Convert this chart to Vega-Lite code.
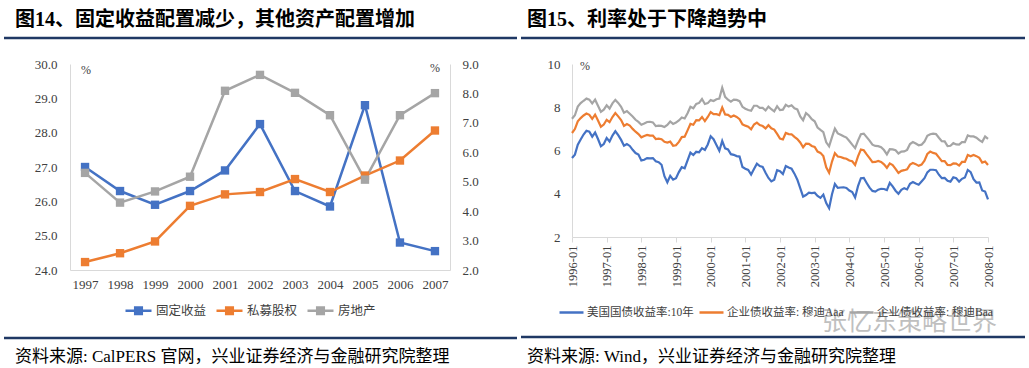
{
  "$schema": "https://vega.github.io/schema/vega-lite/v6.json",
  "padding": 0,
  "background": "white",
  "bounds": "flush",
  "spacing": 122,
  "resolve": {"scale": {"color": "independent"}, "legend": {"color": "independent"}},
  "config": {
    "view": {"stroke": null},
    "axis": {"labelFont": "Liberation Serif", "labelFontSize": 13, "labelColor": "#404040", "domainColor": "#D9D9D9", "domainWidth": 1, "ticks": false, "grid": false, "title": null}
  },
  "datasets": {
    "alloc": [
      {"year": "1997", "series": "固定收益", "value": 27.0},
      {"year": "1998", "series": "固定收益", "value": 26.3},
      {"year": "1999", "series": "固定收益", "value": 25.9},
      {"year": "2000", "series": "固定收益", "value": 26.3},
      {"year": "2001", "series": "固定收益", "value": 26.9},
      {"year": "2002", "series": "固定收益", "value": 28.25},
      {"year": "2003", "series": "固定收益", "value": 26.3},
      {"year": "2004", "series": "固定收益", "value": 25.85},
      {"year": "2005", "series": "固定收益", "value": 28.8},
      {"year": "2006", "series": "固定收益", "value": 24.8},
      {"year": "2007", "series": "固定收益", "value": 24.55},
      {"year": "1997", "series": "私募股权", "value": 2.27},
      {"year": "1998", "series": "私募股权", "value": 2.57},
      {"year": "1999", "series": "私募股权", "value": 2.97},
      {"year": "2000", "series": "私募股权", "value": 4.18},
      {"year": "2001", "series": "私募股权", "value": 4.57},
      {"year": "2002", "series": "私募股权", "value": 4.65},
      {"year": "2003", "series": "私募股权", "value": 5.09},
      {"year": "2004", "series": "私募股权", "value": 4.65},
      {"year": "2005", "series": "私募股权", "value": 5.21},
      {"year": "2006", "series": "私募股权", "value": 5.72},
      {"year": "2007", "series": "私募股权", "value": 6.74},
      {"year": "1997", "series": "房地产", "value": 5.30},
      {"year": "1998", "series": "房地产", "value": 4.29},
      {"year": "1999", "series": "房地产", "value": 4.67},
      {"year": "2000", "series": "房地产", "value": 5.17},
      {"year": "2001", "series": "房地产", "value": 8.09},
      {"year": "2002", "series": "房地产", "value": 8.63},
      {"year": "2003", "series": "房地产", "value": 8.02},
      {"year": "2004", "series": "房地产", "value": 7.26},
      {"year": "2005", "series": "房地产", "value": 5.07},
      {"year": "2006", "series": "房地产", "value": 7.26},
      {"year": "2007", "series": "房地产", "value": 8.01}
    ],
    "rates": [
      {"m": "1996-01", "t10": 5.65, "aaa": 6.81, "baa": 7.47},
      {"m": "1996-02", "t10": 5.81, "aaa": 6.99, "baa": 7.63},
      {"m": "1996-03", "t10": 6.27, "aaa": 7.35, "baa": 8.03},
      {"m": "1996-04", "t10": 6.51, "aaa": 7.50, "baa": 8.19},
      {"m": "1996-05", "t10": 6.74, "aaa": 7.62, "baa": 8.30},
      {"m": "1996-06", "t10": 6.91, "aaa": 7.71, "baa": 8.40},
      {"m": "1996-07", "t10": 6.87, "aaa": 7.65, "baa": 8.35},
      {"m": "1996-08", "t10": 6.64, "aaa": 7.46, "baa": 8.18},
      {"m": "1996-09", "t10": 6.83, "aaa": 7.66, "baa": 8.35},
      {"m": "1996-10", "t10": 6.53, "aaa": 7.39, "baa": 8.07},
      {"m": "1996-11", "t10": 6.20, "aaa": 7.10, "baa": 7.79},
      {"m": "1996-12", "t10": 6.30, "aaa": 7.20, "baa": 7.89},
      {"m": "1997-01", "t10": 6.58, "aaa": 7.42, "baa": 8.09},
      {"m": "1997-02", "t10": 6.42, "aaa": 7.31, "baa": 7.94},
      {"m": "1997-03", "t10": 6.69, "aaa": 7.55, "baa": 8.18},
      {"m": "1997-04", "t10": 6.89, "aaa": 7.73, "baa": 8.34},
      {"m": "1997-05", "t10": 6.71, "aaa": 7.58, "baa": 8.20},
      {"m": "1997-06", "t10": 6.49, "aaa": 7.41, "baa": 8.02},
      {"m": "1997-07", "t10": 6.22, "aaa": 7.14, "baa": 7.75},
      {"m": "1997-08", "t10": 6.30, "aaa": 7.22, "baa": 7.82},
      {"m": "1997-09", "t10": 6.21, "aaa": 7.15, "baa": 7.70},
      {"m": "1997-10", "t10": 6.03, "aaa": 7.00, "baa": 7.57},
      {"m": "1997-11", "t10": 5.88, "aaa": 6.87, "baa": 7.42},
      {"m": "1997-12", "t10": 5.81, "aaa": 6.76, "baa": 7.32},
      {"m": "1998-01", "t10": 5.54, "aaa": 6.61, "baa": 7.19},
      {"m": "1998-02", "t10": 5.57, "aaa": 6.67, "baa": 7.25},
      {"m": "1998-03", "t10": 5.65, "aaa": 6.72, "baa": 7.32},
      {"m": "1998-04", "t10": 5.64, "aaa": 6.69, "baa": 7.33},
      {"m": "1998-05", "t10": 5.65, "aaa": 6.69, "baa": 7.30},
      {"m": "1998-06", "t10": 5.50, "aaa": 6.53, "baa": 7.13},
      {"m": "1998-07", "t10": 5.46, "aaa": 6.55, "baa": 7.15},
      {"m": "1998-08", "t10": 5.34, "aaa": 6.52, "baa": 7.14},
      {"m": "1998-09", "t10": 4.81, "aaa": 6.40, "baa": 7.09},
      {"m": "1998-10", "t10": 4.53, "aaa": 6.37, "baa": 7.18},
      {"m": "1998-11", "t10": 4.83, "aaa": 6.41, "baa": 7.34},
      {"m": "1998-12", "t10": 4.65, "aaa": 6.22, "baa": 7.23},
      {"m": "1999-01", "t10": 4.72, "aaa": 6.24, "baa": 7.29},
      {"m": "1999-02", "t10": 5.00, "aaa": 6.40, "baa": 7.39},
      {"m": "1999-03", "t10": 5.23, "aaa": 6.62, "baa": 7.53},
      {"m": "1999-04", "t10": 5.18, "aaa": 6.64, "baa": 7.48},
      {"m": "1999-05", "t10": 5.54, "aaa": 6.93, "baa": 7.72},
      {"m": "1999-06", "t10": 5.90, "aaa": 7.23, "baa": 8.02},
      {"m": "1999-07", "t10": 5.79, "aaa": 7.19, "baa": 7.95},
      {"m": "1999-08", "t10": 5.94, "aaa": 7.40, "baa": 8.15},
      {"m": "1999-09", "t10": 5.92, "aaa": 7.39, "baa": 8.20},
      {"m": "1999-10", "t10": 6.11, "aaa": 7.55, "baa": 8.38},
      {"m": "1999-11", "t10": 6.03, "aaa": 7.36, "baa": 8.15},
      {"m": "1999-12", "t10": 6.28, "aaa": 7.55, "baa": 8.19},
      {"m": "2000-01", "t10": 6.66, "aaa": 7.78, "baa": 8.33},
      {"m": "2000-02", "t10": 6.52, "aaa": 7.68, "baa": 8.29},
      {"m": "2000-03", "t10": 6.26, "aaa": 7.68, "baa": 8.37},
      {"m": "2000-04", "t10": 5.99, "aaa": 7.64, "baa": 8.40},
      {"m": "2000-05", "t10": 6.44, "aaa": 7.99, "baa": 8.90},
      {"m": "2000-06", "t10": 6.10, "aaa": 7.67, "baa": 8.48},
      {"m": "2000-07", "t10": 6.05, "aaa": 7.65, "baa": 8.35},
      {"m": "2000-08", "t10": 5.83, "aaa": 7.55, "baa": 8.26},
      {"m": "2000-09", "t10": 5.80, "aaa": 7.62, "baa": 8.35},
      {"m": "2000-10", "t10": 5.74, "aaa": 7.55, "baa": 8.34},
      {"m": "2000-11", "t10": 5.72, "aaa": 7.45, "baa": 8.28},
      {"m": "2000-12", "t10": 5.24, "aaa": 7.21, "baa": 8.02},
      {"m": "2001-01", "t10": 5.16, "aaa": 7.15, "baa": 7.93},
      {"m": "2001-02", "t10": 5.10, "aaa": 7.10, "baa": 7.87},
      {"m": "2001-03", "t10": 4.89, "aaa": 6.98, "baa": 7.84},
      {"m": "2001-04", "t10": 5.14, "aaa": 7.20, "baa": 8.07},
      {"m": "2001-05", "t10": 5.39, "aaa": 7.29, "baa": 8.07},
      {"m": "2001-06", "t10": 5.28, "aaa": 7.18, "baa": 7.97},
      {"m": "2001-07", "t10": 5.24, "aaa": 7.13, "baa": 7.97},
      {"m": "2001-08", "t10": 4.97, "aaa": 7.02, "baa": 7.85},
      {"m": "2001-09", "t10": 4.73, "aaa": 7.17, "baa": 8.03},
      {"m": "2001-10", "t10": 4.57, "aaa": 7.03, "baa": 7.91},
      {"m": "2001-11", "t10": 4.65, "aaa": 6.97, "baa": 7.81},
      {"m": "2001-12", "t10": 5.09, "aaa": 6.77, "baa": 8.05},
      {"m": "2002-01", "t10": 5.04, "aaa": 6.55, "baa": 7.87},
      {"m": "2002-02", "t10": 4.91, "aaa": 6.51, "baa": 7.89},
      {"m": "2002-03", "t10": 5.28, "aaa": 6.81, "baa": 8.11},
      {"m": "2002-04", "t10": 5.21, "aaa": 6.76, "baa": 8.03},
      {"m": "2002-05", "t10": 5.16, "aaa": 6.75, "baa": 8.09},
      {"m": "2002-06", "t10": 4.93, "aaa": 6.63, "baa": 7.95},
      {"m": "2002-07", "t10": 4.65, "aaa": 6.53, "baa": 7.90},
      {"m": "2002-08", "t10": 4.26, "aaa": 6.37, "baa": 7.58},
      {"m": "2002-09", "t10": 3.87, "aaa": 6.15, "baa": 7.40},
      {"m": "2002-10", "t10": 3.94, "aaa": 6.32, "baa": 7.73},
      {"m": "2002-11", "t10": 4.05, "aaa": 6.31, "baa": 7.62},
      {"m": "2002-12", "t10": 4.03, "aaa": 6.21, "baa": 7.45},
      {"m": "2003-01", "t10": 4.05, "aaa": 6.17, "baa": 7.35},
      {"m": "2003-02", "t10": 3.90, "aaa": 5.95, "baa": 7.06},
      {"m": "2003-03", "t10": 3.81, "aaa": 5.89, "baa": 6.95},
      {"m": "2003-04", "t10": 3.96, "aaa": 5.74, "baa": 6.85},
      {"m": "2003-05", "t10": 3.57, "aaa": 5.22, "baa": 6.38},
      {"m": "2003-06", "t10": 3.33, "aaa": 4.97, "baa": 6.19},
      {"m": "2003-07", "t10": 3.98, "aaa": 5.49, "baa": 6.62},
      {"m": "2003-08", "t10": 4.45, "aaa": 5.88, "baa": 7.01},
      {"m": "2003-09", "t10": 4.27, "aaa": 5.72, "baa": 6.79},
      {"m": "2003-10", "t10": 4.29, "aaa": 5.70, "baa": 6.73},
      {"m": "2003-11", "t10": 4.30, "aaa": 5.65, "baa": 6.66},
      {"m": "2003-12", "t10": 4.27, "aaa": 5.62, "baa": 6.60},
      {"m": "2004-01", "t10": 4.15, "aaa": 5.54, "baa": 6.44},
      {"m": "2004-02", "t10": 4.08, "aaa": 5.50, "baa": 6.27},
      {"m": "2004-03", "t10": 3.83, "aaa": 5.33, "baa": 6.11},
      {"m": "2004-04", "t10": 4.35, "aaa": 5.73, "baa": 6.46},
      {"m": "2004-05", "t10": 4.72, "aaa": 6.04, "baa": 6.75},
      {"m": "2004-06", "t10": 4.73, "aaa": 6.01, "baa": 6.78},
      {"m": "2004-07", "t10": 4.50, "aaa": 5.82, "baa": 6.62},
      {"m": "2004-08", "t10": 4.28, "aaa": 5.65, "baa": 6.46},
      {"m": "2004-09", "t10": 4.13, "aaa": 5.46, "baa": 6.27},
      {"m": "2004-10", "t10": 4.10, "aaa": 5.47, "baa": 6.21},
      {"m": "2004-11", "t10": 4.19, "aaa": 5.52, "baa": 6.20},
      {"m": "2004-12", "t10": 4.23, "aaa": 5.47, "baa": 6.15},
      {"m": "2005-01", "t10": 4.22, "aaa": 5.36, "baa": 6.02},
      {"m": "2005-02", "t10": 4.17, "aaa": 5.20, "baa": 5.82},
      {"m": "2005-03", "t10": 4.50, "aaa": 5.40, "baa": 6.06},
      {"m": "2005-04", "t10": 4.34, "aaa": 5.33, "baa": 6.05},
      {"m": "2005-05", "t10": 4.14, "aaa": 5.15, "baa": 6.01},
      {"m": "2005-06", "t10": 4.00, "aaa": 4.96, "baa": 5.86},
      {"m": "2005-07", "t10": 4.18, "aaa": 5.06, "baa": 5.95},
      {"m": "2005-08", "t10": 4.26, "aaa": 5.09, "baa": 5.96},
      {"m": "2005-09", "t10": 4.20, "aaa": 5.13, "baa": 6.03},
      {"m": "2005-10", "t10": 4.46, "aaa": 5.35, "baa": 6.30},
      {"m": "2005-11", "t10": 4.54, "aaa": 5.42, "baa": 6.39},
      {"m": "2005-12", "t10": 4.47, "aaa": 5.37, "baa": 6.32},
      {"m": "2006-01", "t10": 4.42, "aaa": 5.29, "baa": 6.24},
      {"m": "2006-02", "t10": 4.57, "aaa": 5.35, "baa": 6.27},
      {"m": "2006-03", "t10": 4.72, "aaa": 5.53, "baa": 6.41},
      {"m": "2006-04", "t10": 4.99, "aaa": 5.84, "baa": 6.68},
      {"m": "2006-05", "t10": 5.11, "aaa": 5.95, "baa": 6.75},
      {"m": "2006-06", "t10": 5.11, "aaa": 5.89, "baa": 6.78},
      {"m": "2006-07", "t10": 5.09, "aaa": 5.85, "baa": 6.76},
      {"m": "2006-08", "t10": 4.88, "aaa": 5.68, "baa": 6.59},
      {"m": "2006-09", "t10": 4.72, "aaa": 5.51, "baa": 6.43},
      {"m": "2006-10", "t10": 4.73, "aaa": 5.51, "baa": 6.42},
      {"m": "2006-11", "t10": 4.60, "aaa": 5.33, "baa": 6.20},
      {"m": "2006-12", "t10": 4.56, "aaa": 5.32, "baa": 6.22},
      {"m": "2007-01", "t10": 4.76, "aaa": 5.40, "baa": 6.34},
      {"m": "2007-02", "t10": 4.72, "aaa": 5.39, "baa": 6.28},
      {"m": "2007-03", "t10": 4.56, "aaa": 5.30, "baa": 6.27},
      {"m": "2007-04", "t10": 4.69, "aaa": 5.47, "baa": 6.39},
      {"m": "2007-05", "t10": 4.75, "aaa": 5.47, "baa": 6.39},
      {"m": "2007-06", "t10": 5.10, "aaa": 5.79, "baa": 6.70},
      {"m": "2007-07", "t10": 5.00, "aaa": 5.73, "baa": 6.65},
      {"m": "2007-08", "t10": 4.67, "aaa": 5.79, "baa": 6.65},
      {"m": "2007-09", "t10": 4.52, "aaa": 5.74, "baa": 6.59},
      {"m": "2007-10", "t10": 4.53, "aaa": 5.66, "baa": 6.48},
      {"m": "2007-11", "t10": 4.15, "aaa": 5.44, "baa": 6.40},
      {"m": "2007-12", "t10": 4.10, "aaa": 5.49, "baa": 6.65},
      {"m": "2008-01", "t10": 3.74, "aaa": 5.33, "baa": 6.54}
    ]
  },
  "hconcat": [
    {
      "width": 380,
      "height": 206,
      "resolve": {"scale": {"y": "independent"}},
      "layer": [
        {
          "data": {"values": [{}]},
          "mark": {"type": "rect", "fill": "transparent", "opacity": 0},
          "encoding": {"x": {"value": -70}, "x2": {"value": 959}, "y": {"value": -64}, "y2": {"value": 304}}
        },
        {
          "data": {"values": [{}]},
          "mark": {"type": "text", "text": "图14、固定收益配置减少，其他资产配置增加", "font": "Liberation Serif, Noto Sans CJK SC", "fontSize": 20, "fontWeight": "bold", "align": "left", "baseline": "middle", "color": "#000000"},
          "encoding": {"x": {"value": -55}, "y": {"value": -44}}
        },
        {
          "data": {"values": [{}]},
          "mark": {"type": "rule", "color": "#1F3864", "strokeWidth": 2.5},
          "encoding": {"x": {"value": -66}, "x2": {"value": 447}, "y": {"value": -26}}
        },
        {
          "data": {"values": [{}]},
          "mark": {"type": "rule", "color": "#1F3864", "strokeWidth": 2.5},
          "encoding": {"x": {"value": -66}, "x2": {"value": 447}, "y": {"value": 274}}
        },
        {
          "data": {"values": [{}]},
          "mark": {"type": "text", "text": "资料来源: CalPERS 官网，兴业证券经济与金融研究院整理", "font": "Liberation Serif, Noto Sans CJK SC", "fontSize": 17, "align": "left", "baseline": "middle", "color": "#000000"},
          "encoding": {"x": {"value": -55}, "y": {"value": 293}}
        },
        {
          "data": {"values": [{}]},
          "mark": {"type": "text", "text": "%", "font": "Liberation Serif", "fontSize": 12, "align": "center", "baseline": "middle", "color": "#404040"},
          "encoding": {"x": {"value": 16}, "y": {"value": 6}}
        },
        {
          "data": {"values": [{}]},
          "mark": {"type": "text", "text": "%", "font": "Liberation Serif", "fontSize": 12, "align": "center", "baseline": "middle", "color": "#404040"},
          "encoding": {"x": {"value": 365}, "y": {"value": 4}}
        },
        {
          "data": {"name": "alloc"},
          "transform": [{"filter": "datum.series === '固定收益'"}],
          "mark": {"type": "line", "strokeWidth": 2.5, "point": {"shape": "square", "size": 70, "filled": true}},
          "encoding": {
            "x": {"field": "year", "type": "ordinal", "scale": {"type": "point", "padding": 0.43}, "axis": {"labelAngle": 0, "labelPadding": 8}},
            "y": {"field": "value", "type": "quantitative", "scale": {"domain": [24, 30], "nice": false, "zero": false}, "axis": {"orient": "left", "values": [24, 25, 26, 27, 28, 29, 30], "format": ".1f", "labelPadding": 13}},
            "color": {
              "field": "series", "type": "nominal",
              "scale": {"domain": ["固定收益", "私募股权", "房地产"], "range": ["#4472C4", "#ED7D31", "#A5A5A5"]},
              "legend": {"orient": "none", "legendX": 54, "legendY": 232, "direction": "horizontal", "title": null, "symbolType": "M-1,0L1,0M-0.35,-0.25L0.35,-0.25M-0.35,-0.083L0.35,-0.083M-0.35,0.083L0.35,0.083M-0.35,0.25L0.35,0.25", "symbolSize": 676, "symbolStrokeWidth": 2.5, "labelFont": "Noto Sans CJK SC", "labelFontSize": 12.5, "labelColor": "#404040", "labelOffset": 3, "columnPadding": 4, "padding": 0}
            }
          }
        },
        {
          "data": {"name": "alloc"},
          "transform": [{"filter": "datum.series !== '固定收益'"}],
          "mark": {"type": "line", "strokeWidth": 2.5, "point": {"shape": "square", "size": 70, "filled": true}},
          "encoding": {
            "x": {"field": "year", "type": "ordinal"},
            "y": {"field": "value", "type": "quantitative", "scale": {"domain": [2, 9], "nice": false, "zero": false}, "axis": {"orient": "right", "values": [2, 3, 4, 5, 6, 7, 8, 9], "format": ".1f", "labelPadding": 12}},
            "color": {"field": "series", "type": "nominal"}
          }
        }
      ]
    },
    {
      "width": 416,
      "height": 173,
      "layer": [
        {
          "data": {"values": [{}]},
          "mark": {"type": "text", "text": "图15、利率处于下降趋势中", "font": "Liberation Serif, Noto Sans CJK SC", "fontSize": 20, "fontWeight": "bold", "align": "left", "baseline": "middle", "color": "#000000"},
          "encoding": {"x": {"value": -45}, "y": {"value": -44}}
        },
        {
          "data": {"values": [{}]},
          "mark": {"type": "rule", "color": "#1F3864", "strokeWidth": 2.5},
          "encoding": {"x": {"value": -51}, "x2": {"value": 453}, "y": {"value": -26}}
        },
        {
          "data": {"values": [{}]},
          "mark": {"type": "rule", "color": "#1F3864", "strokeWidth": 2.5},
          "encoding": {"x": {"value": -51}, "x2": {"value": 453}, "y": {"value": 273}}
        },
        {
          "data": {"values": [{}]},
          "mark": {"type": "text", "text": "资料来源: Wind，兴业证券经济与金融研究院整理", "font": "Liberation Serif, Noto Sans CJK SC", "fontSize": 17, "align": "left", "baseline": "middle", "color": "#000000"},
          "encoding": {"x": {"value": -45}, "y": {"value": 293}}
        },
        {
          "data": {"values": [{}]},
          "mark": {"type": "text", "text": "%", "font": "Liberation Serif", "fontSize": 12, "align": "center", "baseline": "middle", "color": "#404040"},
          "encoding": {"x": {"value": 13}, "y": {"value": 2}}
        },
        {
          "data": {"name": "rates"},
          "transform": [{"fold": ["t10", "aaa", "baa"], "as": ["rate", "yield"]}],
          "mark": {"type": "line", "strokeWidth": 2.2},
          "encoding": {
            "x": {"field": "m", "type": "ordinal", "scale": {"type": "point", "padding": 0}, "axis": {"values": ["1996-01", "1997-01", "1998-01", "1999-01", "2000-01", "2001-01", "2002-01", "2003-01", "2004-01", "2005-01", "2006-01", "2007-01", "2008-01"], "labelAngle": 270, "ticks": true, "tickSize": 5, "tickColor": "#D9D9D9", "labelPadding": 3, "labelFontSize": 12.5}},
            "y": {"field": "yield", "type": "quantitative", "scale": {"domain": [2, 10], "nice": false, "zero": false}, "axis": {"values": [2, 4, 6, 8, 10], "labelPadding": 12}},
            "color": {
              "field": "rate", "type": "nominal",
              "scale": {"domain": ["t10", "aaa", "baa"], "range": ["#4472C4", "#ED7D31", "#A5A5A5"]},
              "legend": {"orient": "none", "legendX": -14, "legendY": 235, "direction": "horizontal", "title": null, "symbolType": "stroke", "symbolSize": 576, "symbolStrokeWidth": 2.5, "labelFont": "Liberation Serif, Noto Sans CJK SC", "labelFontSize": 11.5, "labelColor": "#404040", "labelOffset": 2, "columnPadding": 0, "padding": 0, "labelLimit": 200,
                "labelExpr": "datum.label === 't10' ? '美国国债收益率:10年' : datum.label === 'aaa' ? '企业债收益率: 穆迪Aaa' : '企业债收益率: 穆迪Baa'"}
            }
          }
        },
        {
          "data": {"values": [{}]},
          "mark": {"type": "text", "text": "张忆东策略世界", "font": "Noto Sans CJK SC", "fontSize": 25, "align": "left", "baseline": "middle", "color": "#b5b5b5", "opacity": 0.85},
          "encoding": {"x": {"value": 250}, "y": {"value": 258}}
        }
      ]
    }
  ]
}
